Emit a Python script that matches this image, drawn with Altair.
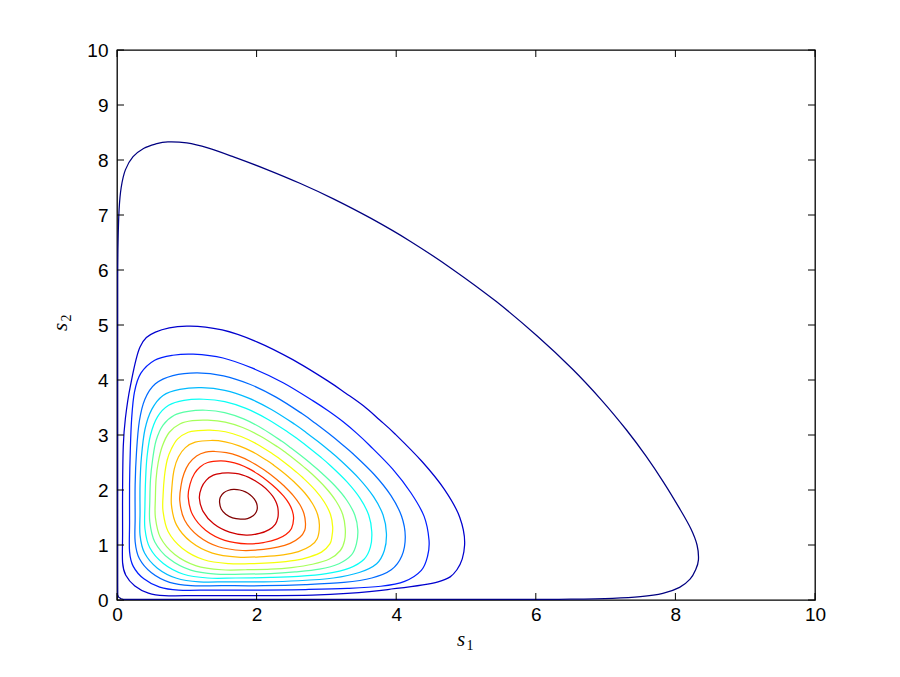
import altair as alt
import pandas as pd

x_ticks = [0, 2, 4, 6, 8, 10]
y_ticks = [0, 1, 2, 3, 4, 5, 6, 7, 8, 9, 10]

level_names = ["c01", "c02", "c03", "c04", "c05", "c06", "c07",
               "c08", "c09", "c10", "c11", "c12", "c13", "c14"]
level_colors = ["#000080", "#0000CE", "#001EFF", "#006BFF", "#00BAFF", "#0AFFF5", "#59FFA6",
                "#A6FF59", "#F5FF0A", "#FFBA00", "#FF6B00", "#FF1E00", "#CE0000", "#800000"]

# upper half of each contour (s2 >= s1), from the lower-left diagonal crossing,
# up the left side, over the top, down to the upper-right diagonal crossing
c01_x = [0.04, 0.015, 0.01, 0.01, 0.01, 0.01, 0.015, 0.03, 0.06, 0.12, 0.23, 0.38, 0.55, 0.73, 1.00, 1.30, 1.67, 2.14, 2.62, 3.10, 3.64, 4.20, 4.80, 5.43]
c01_y = [0.04, 0.08, 0.30, 2.00, 4.00, 5.80, 6.50, 7.10, 7.50, 7.82, 8.06, 8.21, 8.29, 8.33, 8.31, 8.22, 8.057, 7.831, 7.577, 7.294, 6.938, 6.524, 6.02, 5.43]

c02_x = [0.256, 0.126, 0.08, 0.08, 0.08, 0.09, 0.12, 0.19, 0.33, 0.55, 1.00, 1.506, 2.012, 2.518, 3.024, 3.277, 3.53]
c02_y = [0.256, 0.45, 0.68, 1.20, 2.00, 2.80, 3.30, 3.88, 4.60, 4.87, 4.98, 4.91, 4.69, 4.37, 3.98, 3.76, 3.53]

c03_x = [0.385, 0.233, 0.18, 0.18, 0.18, 0.19, 0.21, 0.25, 0.34, 0.54, 0.80, 1.09, 1.52, 1.95, 2.38, 2.81, 3.025, 3.24]
c03_y = [0.385, 0.612, 0.88, 1.40, 2.10, 2.70, 3.30, 3.78, 4.12, 4.36, 4.45, 4.47, 4.40, 4.21, 3.95, 3.62, 3.44, 3.24]

c04_x = [0.494, 0.32, 0.26, 0.26, 0.26, 0.28, 0.32, 0.40, 0.55, 0.80, 1.15, 1.526, 1.902, 2.278, 2.654, 2.842, 3.03]
c04_y = [0.494, 0.754, 1.06, 1.50, 2.10, 2.70, 3.25, 3.65, 3.93, 4.08, 4.13, 4.076, 3.923, 3.688, 3.385, 3.213, 3.03]

c05_x = [0.579, 0.395, 0.33, 0.33, 0.33, 0.35, 0.40, 0.50, 0.66, 0.90, 1.21, 1.544, 1.878, 2.212, 2.546, 2.713, 2.88]
c05_y = [0.579, 0.854, 1.18, 1.60, 2.10, 2.60, 3.10, 3.47, 3.72, 3.83, 3.86, 3.812, 3.675, 3.465, 3.196, 3.043, 2.88]

c06_x = [0.664, 0.468, 0.40, 0.40, 0.41, 0.43, 0.48, 0.58, 0.74, 0.96, 1.24, 1.544, 1.848, 2.152, 2.456, 2.608, 2.76]
c06_y = [0.664, 0.955, 1.30, 1.70, 2.20, 2.60, 3.00, 3.33, 3.54, 3.63, 3.65, 3.606, 3.483, 3.292, 3.047, 2.908, 2.76]

c07_x = [0.748, 0.542, 0.47, 0.47, 0.48, 0.51, 0.56, 0.66, 0.82, 1.02, 1.27, 1.542, 1.814, 2.086, 2.358, 2.494, 2.63]
c07_y = [0.748, 1.056, 1.42, 1.80, 2.20, 2.55, 2.90, 3.18, 3.36, 3.43, 3.45, 3.408, 3.292, 3.115, 2.889, 2.763, 2.63]

c08_x = [0.828, 0.622, 0.55, 0.55, 0.56, 0.59, 0.65, 0.75, 0.90, 1.08, 1.30, 1.55, 1.80, 2.05, 2.30, 2.425, 2.55]
c08_y = [0.828, 1.136, 1.50, 1.85, 2.20, 2.50, 2.80, 3.05, 3.20, 3.26, 3.27, 3.235, 3.137, 2.983, 2.785, 2.671, 2.55]

c09_x = [0.938, 0.732, 0.66, 0.66, 0.68, 0.72, 0.78, 0.87, 1.02, 1.16, 1.33, 1.554, 1.778, 2.002, 2.226, 2.338, 2.45]
c09_y = [0.938, 1.246, 1.61, 1.90, 2.25, 2.55, 2.75, 2.93, 3.05, 3.08, 3.09, 3.059, 2.972, 2.837, 2.660, 2.559, 2.45]

c10_x = [1.058, 0.852, 0.78, 0.79, 0.82, 0.88, 0.98, 1.12, 1.35, 1.55, 1.75, 1.95, 2.15, 2.25, 2.35]
c10_y = [1.058, 1.366, 1.73, 2.10, 2.38, 2.60, 2.77, 2.87, 2.90, 2.875, 2.802, 2.688, 2.535, 2.446, 2.35]

c11_x = [1.164, 0.968, 0.90, 0.92, 0.96, 1.03, 1.14, 1.27, 1.40, 1.568, 1.736, 1.904, 2.072, 2.156, 2.24]
c11_y = [1.164, 1.455, 1.80, 2.10, 2.30, 2.48, 2.62, 2.69, 2.70, 2.679, 2.619, 2.523, 2.395, 2.321, 2.24]

c12_x = [1.269, 1.085, 1.02, 1.05, 1.11, 1.19, 1.30, 1.48, 1.616, 1.752, 1.888, 2.024, 2.16]
c12_y = [1.269, 1.544, 1.87, 2.12, 2.30, 2.42, 2.50, 2.53, 2.513, 2.465, 2.388, 2.285, 2.16]

c13_x = [1.385, 1.233, 1.18, 1.21, 1.28, 1.38, 1.50, 1.60, 1.696, 1.792, 1.888, 1.984, 2.08]
c13_y = [1.385, 1.612, 1.85, 2.04, 2.18, 2.27, 2.305, 2.31, 2.301, 2.275, 2.230, 2.165, 2.08]

c14_x = [1.558, 1.493, 1.47, 1.48, 1.53, 1.60, 1.67, 1.76, 1.84, 1.91]
c14_y = [1.558, 1.655, 1.77, 1.87, 1.95, 1.995, 2.01, 2.00, 1.965, 1.91]

halves = [(c01_x, c01_y), (c02_x, c02_y), (c03_x, c03_y), (c04_x, c04_y), (c05_x, c05_y),
          (c06_x, c06_y), (c07_x, c07_y), (c08_x, c08_y), (c09_x, c09_y), (c10_x, c10_y),
          (c11_x, c11_y), (c12_x, c12_y), (c13_x, c13_y), (c14_x, c14_y)]

rows = []
for name, (hx, hy) in zip(level_names, halves):
    # each contour is symmetric about s1 = s2: the lower half is its mirror image
    lx = list(reversed(hy))[1:-1]
    ly = list(reversed(hx))[1:-1]
    for i, (a, b) in enumerate(zip(hx + lx, hy + ly)):
        rows.append({"level": name, "i": i, "s1": a, "s2": b})
df = pd.DataFrame(rows)

W, H = 698, 550
xs = alt.Scale(domain=[0, 10], nice=False, zero=False)
ys = alt.Scale(domain=[0, 10], nice=False, zero=False)

contours = alt.Chart(df).mark_line(interpolate="cardinal-closed", strokeWidth=1.25, clip=True).encode(
    x=alt.X("s1:Q", scale=xs, axis=alt.Axis(
        values=x_ticks, format="d", tickSize=0, domain=False, grid=False, labelFlush=False,
        labelFontSize=19, labelFont="Liberation Sans", labelColor="black", labelPadding=5,
        title="")),
    y=alt.Y("s2:Q", scale=ys, axis=alt.Axis(
        values=y_ticks, format="d", tickSize=0, domain=False, grid=False, labelFlush=False,
        labelFontSize=19, labelFont="Liberation Sans", labelColor="black", labelPadding=9,
        title="")),
    color=alt.Color("level:N", scale=alt.Scale(domain=level_names, range=level_colors), legend=None),
    detail="level:N",
    order="i:Q",
)

xt_df = pd.DataFrame({"t": x_ticks})
yt_df = pd.DataFrame({"t": y_ticks})

tick_bottom = alt.Chart(xt_df).mark_rule(color="black", strokeWidth=1).encode(
    x=alt.X("t:Q", scale=xs), y=alt.value(H), y2=alt.value(H - 7))
tick_top = alt.Chart(xt_df).mark_rule(color="black", strokeWidth=1).encode(
    x=alt.X("t:Q", scale=xs), y=alt.value(0), y2=alt.value(7))
tick_left = alt.Chart(yt_df).mark_rule(color="black", strokeWidth=1).encode(
    y=alt.Y("t:Q", scale=ys), x=alt.value(0), x2=alt.value(7))
tick_right = alt.Chart(yt_df).mark_rule(color="black", strokeWidth=1).encode(
    y=alt.Y("t:Q", scale=ys), x=alt.value(W), x2=alt.value(W - 7))

# axis titles: italic "s" with an upright subscript
lbl = pd.DataFrame({"k": [0]})
xs_main = alt.Chart(lbl).mark_text(text="s", font="Liberation Serif", fontStyle="italic",
                                   fontSize=21, align="center", baseline="alphabetic", color="black"
                                   ).encode(x=alt.value(344), y=alt.value(596))
xs_sub = alt.Chart(lbl).mark_text(text="1", font="Liberation Serif", fontSize=14,
                                  align="center", baseline="alphabetic", color="black"
                                  ).encode(x=alt.value(353), y=alt.value(600))
ys_main = alt.Chart(lbl).mark_text(text="s", font="Liberation Serif", fontStyle="italic",
                                   fontSize=21, align="center", baseline="alphabetic", angle=270,
                                   color="black").encode(x=alt.value(-50), y=alt.value(277))
ys_sub = alt.Chart(lbl).mark_text(text="2", font="Liberation Serif", fontSize=14,
                                  align="center", baseline="alphabetic", angle=270,
                                  color="black").encode(x=alt.value(-46), y=alt.value(268))

chart = alt.layer(contours, tick_bottom, tick_top, tick_left, tick_right,
                  xs_main, xs_sub, ys_main, ys_sub).properties(
    width=W, height=H,
    autosize=alt.AutoSizeParams(type="none"),
    padding={"left": 109, "top": 42, "right": 77, "bottom": 69},
    background="white",
).configure_view(stroke="black", strokeWidth=1.3)

chart.save("out.html", embed_options={"renderer": "svg", "actions": False})
